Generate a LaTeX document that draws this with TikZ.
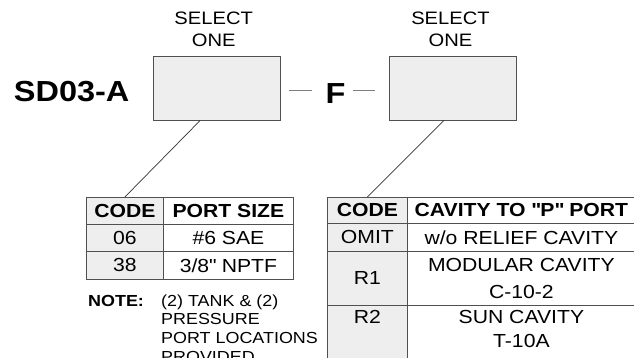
\documentclass[tikz,border=0pt]{standalone}
\usepackage{fontspec}
\setmainfont{Liberation Sans}[FakeStretch=1.12]
\usetikzlibrary{positioning}
\definecolor{boxfill}{HTML}{EEEEEE}
\definecolor{rulegray}{HTML}{505050}
\definecolor{dashgray}{HTML}{808080}
\newcommand{\tblfont}{\fontsize{18.9}{27}\selectfont}

\begin{document}
\begin{tikzpicture}[x=1pt,y=-1pt,
    selbox/.style={draw=rulegray, line width=0.9pt, fill=boxfill, minimum width=127pt, minimum height=64pt, inner sep=0pt},
    cell/.style={draw=rulegray, line width=0.8pt, inner sep=0pt, anchor=north west, align=center, font=\tblfont},
    codecell/.style={cell, fill=boxfill},
    leader/.style={draw=black!80, line width=0.7pt},
    dashln/.style={draw=dashgray, line width=1pt}]
  \useasboundingbox (0,0) rectangle (634,358);
  \clip (0,0) rectangle (634,358);

  \node[selbox] (box1) at (216.7,88) {};
  \node[selbox] (box2) at (452.5,88) {};
  \node[above=9pt of box1, xshift=-3pt, align=center, inner sep=0pt, font=\fontsize{18}{21.5}\selectfont] (sel1) {SELECT\\ONE};
  \node[above=9pt of box2, xshift=-2pt, align=center, inner sep=0pt, font=\fontsize{18}{21.5}\selectfont] (sel2) {SELECT\\ONE};
  \node[inner sep=0pt, font=\fontsize{29}{31}\selectfont\bfseries] (model) at (71.7,91.7) {SD03-A};
  \node[inner sep=0pt, font=\fontsize{29}{31}\selectfont\bfseries] (f) at (335.5,93.7) {F};
  \draw[dashln] ([xshift=8pt,yshift=-2.7pt]box1.east) -- ([xshift=-13pt,yshift=3pt]f.west);
  \draw[dashln] ([xshift=7pt,yshift=3pt]f.east) -- ([xshift=-14pt,yshift=-2.7pt]box2.west);

  % port size table
  \node[codecell, minimum width=77pt, minimum height=27pt, font=\tblfont\bfseries] (t1c0) at (86,197) {CODE};
  \node[cell, minimum width=130pt, minimum height=27pt, font=\tblfont\bfseries] (t1d0) at (163,197) {PORT SIZE};
  \node[codecell, minimum width=77pt, minimum height=27pt] (t1c1) at (86,224) {06};
  \node[cell, minimum width=130pt, minimum height=27pt] (t1d1) at (163,224) {\#6 SAE};
  \node[codecell, minimum width=77pt, minimum height=28pt] (t1c2) at (86,251) {38};
  \node[cell, minimum width=130pt, minimum height=28pt] (t1d2) at (163,251) {3/8\textquotedbl{} NPTF};

  % cavity table
  \node[codecell, minimum width=80pt, minimum height=26pt, font=\tblfont\bfseries] (t2c0) at (327,197) {CODE};
  \node[cell, minimum width=228pt, minimum height=26pt, font=\tblfont\bfseries] (t2d0) at (407,197) {CAVITY TO \textquotedbl P\textquotedbl{} PORT};
  \node[codecell, minimum width=80pt, minimum height=28pt] (t2c1) at (327,223) {OMIT};
  \node[cell, minimum width=228pt, minimum height=28pt] (t2d1) at (407,223) {w/o RELIEF CAVITY};
  \node[codecell, minimum width=80pt, minimum height=54pt] (t2c2) at (327,251) {R1};
  \node[cell, minimum width=228pt, minimum height=54pt] (t2d2) at (407,251) {MODULAR CAVITY\\C-10-2};
  \node[codecell, minimum width=80pt, minimum height=60pt] (t2c3) at (327,305) {};
  \node[cell, minimum width=228pt, minimum height=60pt] (t2d3) at (407,305) {};
  \node[below=5pt of t2c3.north, inner sep=0pt, font=\tblfont] (r2) {R2};
  \node[below=5pt of t2d3.north, inner sep=0pt, align=center, font=\fontsize{18.9}{24}\selectfont] (sun) {SUN CAVITY\\T-10A};

  \draw[leader] (box1.-117) -- (t1c0.north);
  \draw[leader] (box2.-105) -- (t2c0.north);

  \node[anchor=north west, inner sep=0pt, font=\fontsize{16}{18.7}\selectfont\bfseries] (note) at (88,295) {NOTE:};
  \node[anchor=north west, inner sep=0pt, align=left, font=\fontsize{16}{18.7}\selectfont] (notetxt) at (161,294.5) {(2) TANK \& (2)\\PRESSURE\\PORT LOCATIONS\\PROVIDED};
\end{tikzpicture}
\end{document}
